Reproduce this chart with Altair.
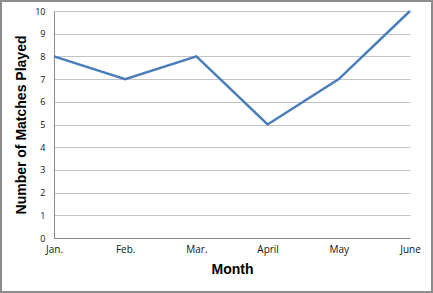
import altair as alt
import pandas as pd

months = ["Jan.", "Feb.", "Mar.", "April", "May", "June"]
matches = [8, 7, 8, 5, 7, 10]
y_ticks = [0, 1, 2, 3, 4, 5, 6, 7, 8, 9, 10]

df = pd.DataFrame({"Month": months, "Matches": matches})

base = alt.Chart(df)

line = base.mark_line(color="#4a7ebb", strokeWidth=2.5).encode(
    x=alt.X("Month:N", sort=months,
            scale=alt.Scale(type="point", padding=0),
            axis=alt.Axis(title="Month", labelAngle=0, tickSize=0, labelPadding=6,
                          labelFontSize=10, labelColor="#111", labelFont="Open Sans",
                          titleFontSize=14, titleFont="Liberation Sans", titleFontWeight="bold",
                          titlePadding=8, domainColor="#888", grid=False)),
    y=alt.Y("Matches:Q", scale=alt.Scale(domain=[0, 10], nice=False),
            axis=alt.Axis(title="Number of Matches Played", values=y_ticks, labelOverlap=False,
                          tickSize=0, labelPadding=9, labelFontSize=9, labelColor="#111",
                          labelFont="Open Sans", titleFontSize=14, titleFont="Liberation Sans",
                          titleFontWeight="bold", titlePadding=6, domainColor="#888",
                          gridColor="#c4c4c4", gridWidth=1)),
)

border = base.mark_rect(fill=None, stroke="#8c8c8c", strokeWidth=1.5, clip=False).encode(
    x=alt.value(-53), x2=alt.value(378), y=alt.value(-10), y2=alt.value(281)
)

chart = alt.layer(line, border).properties(
    width=356, height=227,
    background="white",
    autosize=alt.AutoSizeParams(type="none"),
    padding={"left": 54, "top": 11, "right": 23, "bottom": 55},
).configure_view(stroke=None)

chart.save("out.html", embed_options={"renderer": "svg", "actions": False})
